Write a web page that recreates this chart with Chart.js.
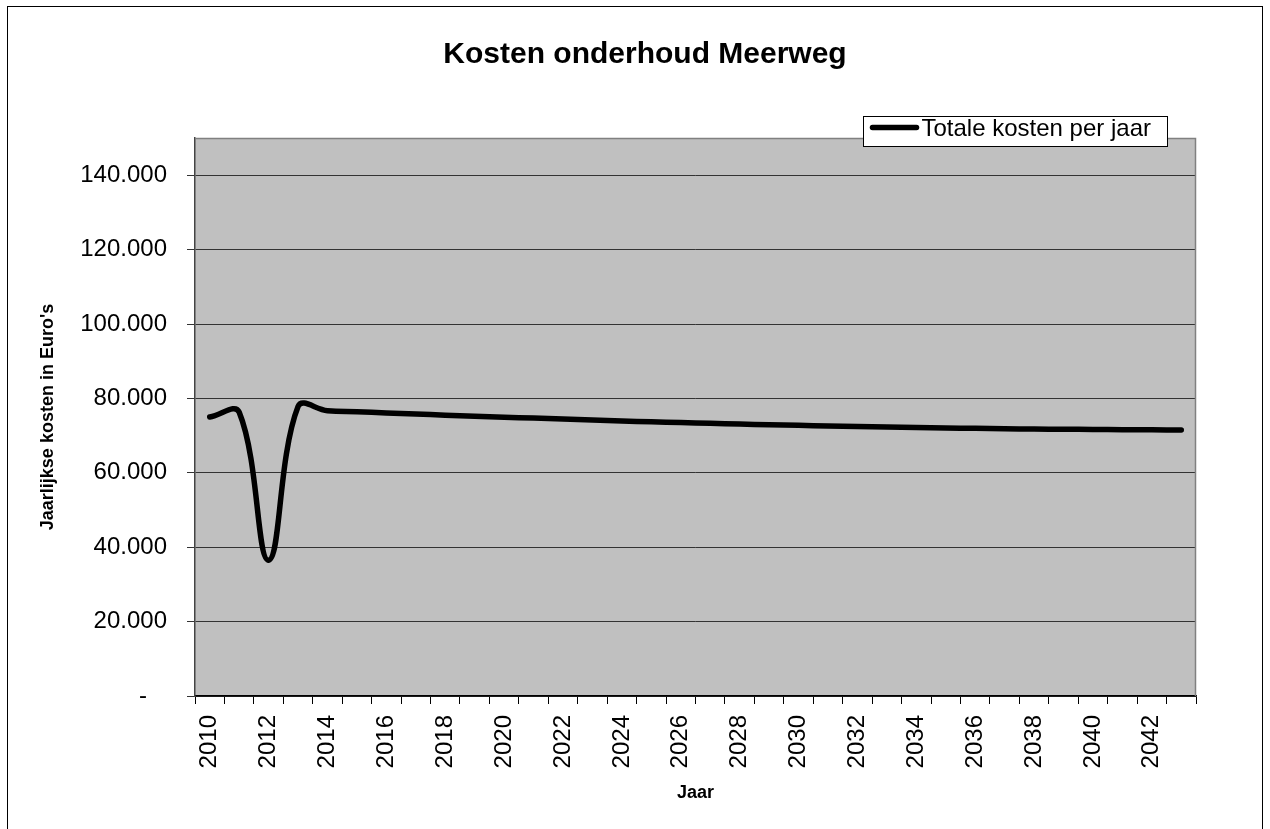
<!DOCTYPE html>
<html>
<head>
<meta charset="utf-8">
<script src="https://cdn.jsdelivr.net/npm/chart.js@4.4.1/dist/chart.umd.min.js"></script>
<style>
  html, body { margin: 0; padding: 0; background: #ffffff; overflow: hidden; }
  #wrap { position: relative; width: 1270px; height: 829px; }
</style>
</head>
<body>
<div id="wrap"><canvas id="c" width="1270" height="829"></canvas></div>
<script>
const chartTitle = 'Kosten onderhoud Meerweg';
const seriesName = 'Totale kosten per jaar';
const yAxisTitle = "Jaarlijkse kosten in Euro's";
const xAxisTitle = 'Jaar';

const years = [
  '2010','2011','2012','2013','2014','2015','2016','2017','2018','2019',
  '2020','2021','2022','2023','2024','2025','2026','2027','2028','2029',
  '2030','2031','2032','2033','2034','2035','2036','2037','2038','2039',
  '2040','2041','2042','2043'
];
const totalCosts = [
  75000, 76300, 36500, 77800, 76700, 76400, 76100, 75800, 75500, 75200,
  74950, 74700, 74450, 74200, 73950, 73700, 73500, 73300, 73100, 72900,
  72750, 72600, 72450, 72300, 72150, 72050, 71950, 71850, 71750, 71700,
  71650, 71600, 71550, 71500
];
const yTickValues = [0, 20000, 40000, 60000, 80000, 100000, 120000, 140000];
const yMin = 0;
const yMax = 150000;

const FONT = 'Liberation Sans, Arial, Helvetica, sans-serif';

function fmt(v) {
  if (v === 0) return '-   ';
  return String(v).replace(/\B(?=(\d{3})+(?!\d))/g, '.');
}

const framePlugin = {
  id: 'frame',
  beforeDraw(chart) {
    const ctx = chart.ctx;
    const a = chart.chartArea;
    ctx.save();
    ctx.fillStyle = '#ffffff';
    ctx.fillRect(0, 0, chart.width, chart.height);
    ctx.strokeStyle = '#000000';
    ctx.lineWidth = 1;
    ctx.strokeRect(7.5, 6.5, chart.width - 15, chart.height + 50);
    ctx.fillStyle = '#c0c0c0';
    ctx.fillRect(a.left, a.top, a.right - a.left, a.bottom - a.top);
    ctx.restore();
  },
  afterDatasetsDraw(chart) {
    const ctx = chart.ctx;
    const a = chart.chartArea;
    ctx.save();
    ctx.strokeStyle = '#808080';
    ctx.lineWidth = 1.5;
    ctx.beginPath();
    ctx.moveTo(a.left, a.top + 0.5);
    ctx.lineTo(a.right - 0.5, a.top + 0.5);
    ctx.lineTo(a.right - 0.5, a.bottom);
    ctx.stroke();
    ctx.restore();
  },
  afterDraw(chart) {
    const ctx = chart.ctx;
    const a = chart.chartArea;
    const ds = chart.data.datasets[0];
    ctx.save();
    const bx = Math.round(a.right - 333) + 0.5;
    const by = Math.round(a.top - 22) + 0.5;
    const bw = 304, bh = 30;
    ctx.fillStyle = '#ffffff';
    ctx.fillRect(bx, by, bw, bh);
    ctx.strokeStyle = '#000000';
    ctx.lineWidth = 1;
    ctx.strokeRect(bx, by, bw, bh);
    ctx.strokeStyle = ds.borderColor;
    ctx.lineWidth = 5.5;
    ctx.lineCap = 'round';
    ctx.beginPath();
    ctx.moveTo(bx + 9, by + 11);
    ctx.lineTo(bx + 53, by + 11);
    ctx.stroke();
    ctx.fillStyle = '#000000';
    ctx.font = '24px ' + FONT;
    ctx.textBaseline = 'middle';
    ctx.textAlign = 'left';
    ctx.fillText(ds.label, bx + 58, by + 13);
    ctx.restore();
  }
};

new Chart(document.getElementById('c'), {
  type: 'line',
  data: {
    labels: years,
    datasets: [{
      label: seriesName,
      data: totalCosts,
      yAxisID: 'y',
      borderColor: '#000000',
      backgroundColor: '#000000',
      borderWidth: 5.5,
      borderCapStyle: 'round',
      borderJoinStyle: 'round',
      pointRadius: 0,
      pointHoverRadius: 0,
      tension: 0.4,
      fill: false
    }]
  },
  options: {
    responsive: false,
    animation: false,
    events: [],
    layout: { padding: { left: 20, right: 0, top: 0, bottom: 0 } },
    plugins: {
      legend: { display: false },
      tooltip: { enabled: false },
      title: {
        display: true,
        text: chartTitle,
        color: '#000000',
        font: { family: FONT, size: 30, weight: 'bold', lineHeight: 1.2 },
        padding: { top: 37, bottom: 65 }
      }
    },
    scales: {
      x: {
        type: 'category',
        offset: true,
        afterFit(scale) { scale.height = 133; },
        grid: {
          display: true,
          offset: true,
          drawOnChartArea: false,
          drawTicks: true,
          tickLength: 8,
          color: '#000000',
          lineWidth: 1
        },
        border: { display: true, color: '#000000', width: 1.5 },
        ticks: {
          autoSkip: false,
          maxRotation: 90,
          minRotation: 90,
          padding: 11,
          color: '#000000',
          font: { family: FONT, size: 24 },
          callback(value, index) { return index % 2 === 0 ? this.getLabelForValue(value) : ''; }
        },
        title: {
          display: true,
          text: xAxisTitle,
          color: '#000000',
          font: { family: FONT, size: 18, weight: 'bold', lineHeight: 1.2 },
          padding: { top: 0, bottom: 25 }
        }
      },
      y: {
        type: 'linear',
        position: 'left',
        min: yMin,
        max: yMax,
        afterFit(scale) { scale.width = 175; },
        afterBuildTicks(scale) { scale.ticks = yTickValues.map(v => ({ value: v })); },
        grid: {
          display: true,
          drawOnChartArea: true,
          drawTicks: true,
          tickLength: 8,
          color: '#333333',
          lineWidth: 1
        },
        border: { display: true, color: '#444444', width: 1.5 },
        ticks: {
          padding: 20,
          color: '#000000',
          font: { family: FONT, size: 24 },
          callback(value) { return fmt(value); }
        },
        title: {
          display: true,
          text: yAxisTitle,
          color: '#000000',
          font: { family: FONT, size: 18, weight: 'bold', lineHeight: 1.2 },
          padding: { top: 17.2, bottom: 0 }
        }
      },
      yRightSpace: {
        type: 'linear',
        position: 'right',
        display: true,
        afterFit(scale) { scale.width = 74; },
        grid: { display: false, drawOnChartArea: false, drawTicks: false },
        border: { display: false },
        ticks: { display: false },
        title: { display: false }
      }
    }
  },
  plugins: [framePlugin]
});
</script>
</body>
</html>
